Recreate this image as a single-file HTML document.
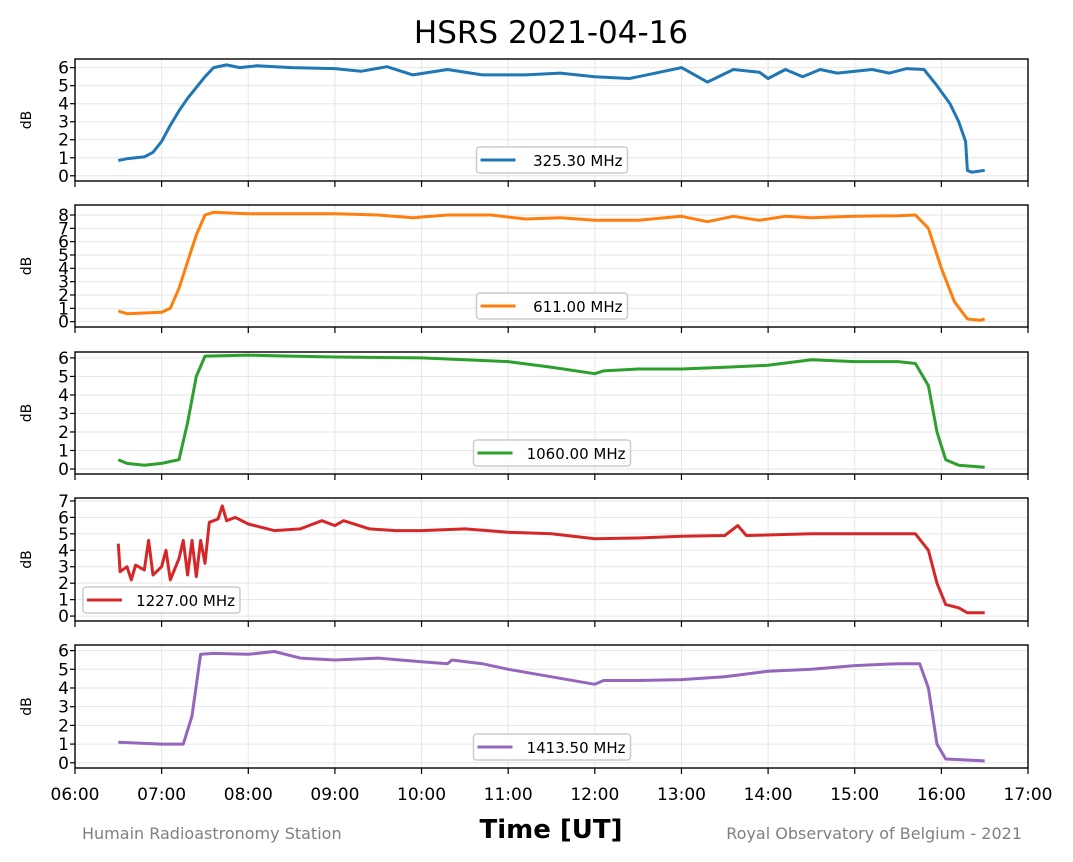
<!DOCTYPE html>
<html><head><meta charset="utf-8"><style>
body{margin:0;background:#fff}
svg{display:block;font-family:"DejaVu Sans","Liberation Sans",sans-serif}
</style></head><body>
<svg id="chart" width="1073" height="862">
<text x="551" y="43" font-size="31" text-anchor="middle">HSRS 2021-04-16</text>
<text x="551" y="838" font-size="26" font-weight="bold" text-anchor="middle">Time [UT]</text>
<text x="82" y="839" font-size="16" fill="#808080">Humain Radioastronomy Station</text>
<text x="1022" y="839" font-size="16" fill="#808080" text-anchor="end">Royal Observatory of Belgium - 2021</text>
</svg>
<script>
const xTicks = [6,7,8,9,10,11,12,13,14,15,16,17];
const xTickLabels = ["06:00","07:00","08:00","09:00","10:00","11:00","12:00","13:00","14:00","15:00","16:00","17:00"];
const seriesNames = ["325.30 MHz","611.00 MHz","1060.00 MHz","1227.00 MHz","1413.50 MHz"];
const t1 = [6.5,6.6,6.7,6.8,6.9,7.0,7.1,7.2,7.3,7.4,7.5,7.6,7.75,7.9,8.1,8.5,9.0,9.3,9.6,9.9,10.3,10.7,11.2,11.6,12.0,12.4,12.8,13.0,13.3,13.6,13.9,14.0,14.2,14.4,14.6,14.8,15.2,15.4,15.6,15.8,15.95,16.1,16.2,16.28,16.3,16.35,16.5];
const v1 = [0.85,0.95,1.0,1.05,1.3,1.9,2.8,3.6,4.3,4.9,5.5,6.0,6.15,6.0,6.1,6.0,5.95,5.8,6.05,5.6,5.9,5.6,5.6,5.7,5.5,5.4,5.8,6.0,5.2,5.9,5.75,5.4,5.9,5.5,5.9,5.7,5.9,5.7,5.95,5.9,5.0,4.0,3.0,1.9,0.3,0.2,0.3];
const t2 = [6.5,6.6,7.0,7.1,7.2,7.3,7.4,7.5,7.6,8.0,9.0,9.5,9.9,10.3,10.8,11.2,11.6,12.0,12.5,13.0,13.3,13.6,13.9,14.2,14.5,15.0,15.5,15.7,15.85,16.0,16.15,16.3,16.45,16.5];
const v2 = [0.8,0.6,0.7,1.0,2.5,4.5,6.5,8.0,8.2,8.1,8.1,8.0,7.8,8.0,8.0,7.7,7.8,7.6,7.6,7.9,7.5,7.9,7.6,7.9,7.8,7.9,7.95,8.0,7.0,4.0,1.5,0.2,0.1,0.2];
const t3 = [6.5,6.6,6.8,7.0,7.2,7.3,7.4,7.5,8.0,8.5,9.0,10.0,10.5,11.0,11.5,12.0,12.1,12.5,13.0,13.5,14.0,14.5,15.0,15.5,15.7,15.85,15.95,16.05,16.2,16.5];
const v3 = [0.5,0.3,0.2,0.3,0.5,2.5,5.0,6.1,6.15,6.1,6.05,6.0,5.9,5.8,5.5,5.15,5.3,5.4,5.4,5.5,5.6,5.9,5.8,5.8,5.7,4.5,2.0,0.5,0.2,0.1];
const t4 = [6.5,6.52,6.6,6.65,6.7,6.8,6.85,6.9,7.0,7.05,7.1,7.2,7.25,7.3,7.35,7.4,7.45,7.5,7.55,7.65,7.7,7.75,7.85,8.0,8.3,8.6,8.85,9.0,9.1,9.4,9.7,10.0,10.5,11.0,11.5,12.0,12.5,13.0,13.5,13.65,13.75,14.5,15.0,15.7,15.85,15.95,16.05,16.2,16.3,16.5];
const v4 = [4.4,2.7,3.0,2.2,3.1,2.8,4.6,2.5,3.0,4.0,2.2,3.5,4.6,2.5,4.6,2.4,4.6,3.2,5.7,5.9,6.7,5.8,6.0,5.6,5.2,5.3,5.8,5.5,5.8,5.3,5.2,5.2,5.3,5.1,5.0,4.7,4.75,4.85,4.9,5.5,4.9,5.0,5.0,5.0,4.0,2.0,0.7,0.5,0.2,0.2];
const t5 = [6.5,7.0,7.25,7.35,7.45,7.6,8.0,8.3,8.6,9.0,9.5,10.0,10.3,10.35,10.7,11.0,11.5,12.0,12.1,12.5,13.0,13.5,14.0,14.5,15.0,15.5,15.75,15.85,15.95,16.05,16.5];
const v5 = [1.1,1.0,1.0,2.5,5.8,5.85,5.8,5.95,5.6,5.5,5.6,5.4,5.3,5.5,5.3,5.0,4.6,4.2,4.4,4.4,4.45,4.6,4.9,5.0,5.2,5.3,5.3,4.0,1.0,0.2,0.1];

const panels = [
 {t:t1,v:v1,top:59,bot:181,ymin:-0.29,ymax:6.48,ticks:[0,1,2,3,4,5,6],color:"#1f77b4",legend:"center"},
 {t:t2,v:v2,top:205,bot:327,ymin:-0.4,ymax:8.75,ticks:[0,1,2,3,4,5,6,7,8],color:"#ff7f0e",legend:"center"},
 {t:t3,v:v3,top:352,bot:474,ymin:-0.27,ymax:6.32,ticks:[0,1,2,3,4,5,6],color:"#2ca02c",legend:"center"},
 {t:t4,v:v4,top:498,bot:621,ymin:-0.3,ymax:7.18,ticks:[0,1,2,3,4,5,6,7],color:"#d62728",legend:"left"},
 {t:t5,v:v5,top:645,bot:768,ymin:-0.28,ymax:6.3,ticks:[0,1,2,3,4,5,6],color:"#9467bd",legend:"center"}
];
const NS="http://www.w3.org/2000/svg";
const svg=document.getElementById("chart");
const X0=75,X1=1028;
const xs=h=>X0+(h-6)/11*(X1-X0);
function mk(tag,attrs,parent){const e=document.createElementNS(NS,tag);for(const k in attrs)e.setAttribute(k,attrs[k]);(parent||svg).appendChild(e);return e;}
panels.forEach((p,i)=>{
 const ys=v=>p.bot-(v-p.ymin)/(p.ymax-p.ymin)*(p.bot-p.top);
 const g=mk("g",{});
 
 
 xTicks.forEach(h=>{const l=mk("line",{x1:xs(h),x2:xs(h),y1:p.top,y2:p.bot,stroke:"#e6e6e6","stroke-width":1},g);
  
  });
 p.ticks.forEach(v=>{const y=ys(v);
  const l=mk("line",{x1:X0,x2:X1,y1:y,y2:y,stroke:"#e6e6e6","stroke-width":1},g);
  
  
  mk("line",{x1:X0-5,x2:X0,y1:y,y2:y,stroke:"#000","stroke-width":1.2},g);
  const tx=mk("text",{x:X0-6,y:y+6,"font-size":17,"text-anchor":"end"},g);tx.textContent=v;
  
  
 });
 let d=p.t.map((h,k)=>(k?"L":"M")+xs(h).toFixed(1)+","+ys(p.v[k]).toFixed(1)).join("");
 const path=mk("path",{d:d,fill:"none",stroke:p.color,"stroke-width":3,"stroke-linejoin":"round"},g);
 
 
 const fr=mk("rect",{x:X0,y:p.top,width:X1-X0,height:p.bot-p.top,fill:"none",stroke:"#000","stroke-width":1.4},g);
 
 
 xTicks.forEach((h,k)=>{mk("line",{x1:xs(h),x2:xs(h),y1:p.bot,y2:p.bot+6,stroke:"#000","stroke-width":1.2},g);
  if(i===4){const tx=mk("text",{x:xs(h),y:p.bot+32,"font-size":17,"text-anchor":"middle"},g);tx.textContent=xTickLabels[k];
  
  }});
 const yl=mk("text",{x:0,y:0,"font-size":14,"text-anchor":"middle",transform:`translate(31,${(p.top+p.bot)/2}) rotate(-90)`},g);
 yl.textContent="dB";
 
 
 const w=p.legend==="left"?157:(seriesNames[i].length>10?157:151);
 const lx=p.legend==="left"?83:552-w/2, ly=p.bot-34;
 const lg=mk("g",{},g);
 
 
 mk("rect",{x:lx,y:ly,width:w,height:26,rx:3,fill:"#fff","fill-opacity":0.85,stroke:"#ccc","stroke-width":1.5},lg);
 mk("line",{x1:lx+4,x2:lx+39,y1:ly+13,y2:ly+13,stroke:p.color,"stroke-width":3},lg);
 const lt=mk("text",{x:lx+w-5,y:ly+19,"font-size":15,"text-anchor":"end"},lg);lt.textContent=seriesNames[i];
});
</script>
</body></html>
